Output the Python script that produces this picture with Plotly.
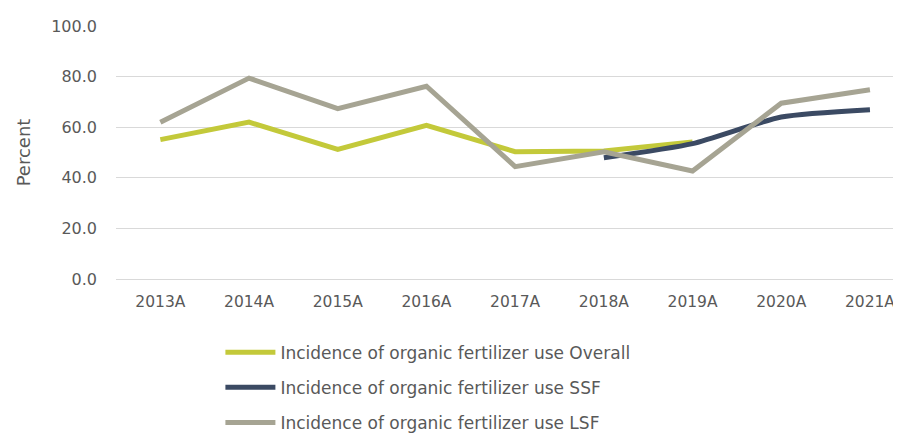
import plotly.graph_objects as go

years = ["2013A", "2014A", "2015A", "2016A", "2017A", "2018A", "2019A", "2020A", "2021A"]
overall = [55.1, 62.0, 51.2, 60.7, 50.3, 50.6, 54.2, None, None]
ssf = [None, None, None, None, None, 47.9, 53.5, 64.0, 66.9]
lsf = [62.0, 79.4, 67.3, 76.2, 44.4, 50.3, 42.7, 69.5, 74.8]
names = ["Incidence of organic fertilizer use Overall",
         "Incidence of organic fertilizer use SSF",
         "Incidence of organic fertilizer use LSF"]

FONT = "DejaVu Sans"
TXT = "#595959"

fig = go.Figure()
fig.add_trace(go.Scatter(x=years, y=overall, name=names[0], mode="lines",
                         line=dict(color="#c3c93a", width=5), legendgroup="a"))
fig.add_trace(go.Scatter(x=years, y=ssf, name=names[1], mode="lines",
                         line=dict(color="#3b4a63", width=5, shape="spline", smoothing=0.6),
                         legendgroup="b"))
fig.add_trace(go.Scatter(x=years, y=lsf, name=names[2], mode="lines",
                         line=dict(color="#a6a493", width=5), legendgroup="c"))

# page body has an 8px default margin, so the figure is sized to fill the rest
fig.update_layout(
    width=893, height=433,
    margin=dict(l=108, r=0, t=18, b=160),
    plot_bgcolor="white", paper_bgcolor="white",
    font=dict(family=FONT, color=TXT, size=16),
    showlegend=True,
    legend=dict(x=0.133, y=-0.22, xanchor="left", yanchor="top",
                orientation="v", tracegroupgap=10, itemwidth=50,
                font=dict(family=FONT, size=17, color=TXT)),
    xaxis=dict(type="category", range=[-0.5, 8.35], showgrid=False,
               showline=False, ticks="", ticklabelstandoff=11,
               tickfont=dict(family=FONT, size=15.5, color=TXT)),
    yaxis=dict(range=[0, 100], dtick=20, tickformat=".1f",
               showgrid=True, gridcolor="#d9d9d9", gridwidth=1,
               zeroline=True, zerolinecolor="#d9d9d9", zerolinewidth=1,
               showline=False, ticks="", ticklabelstandoff=18,
               title=dict(text="Percent", font=dict(family=FONT, size=18, color=TXT), standoff=15),
               tickfont=dict(family=FONT, size=16, color=TXT)),
)

fig.write_html("out.html")
